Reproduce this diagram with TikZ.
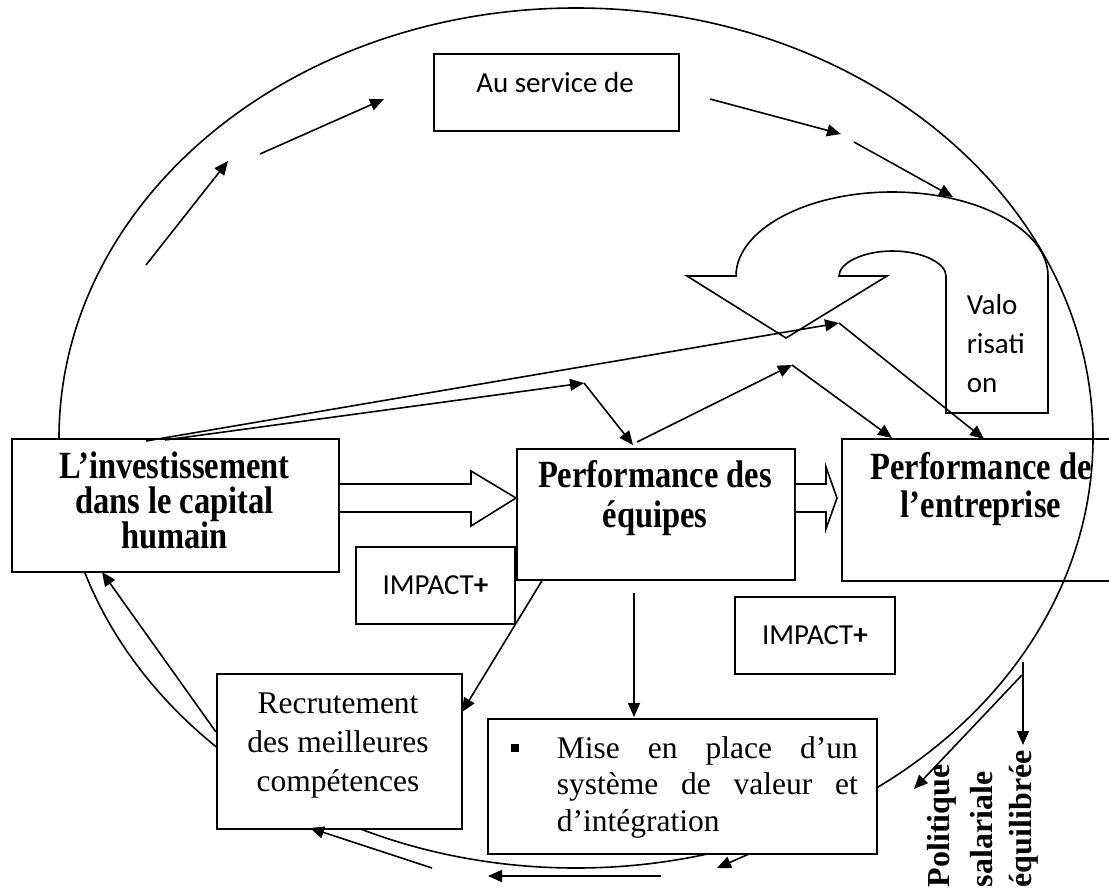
\documentclass[tikz,border=0pt]{standalone}
\usepackage{fontspec}
\setmainfont{Liberation Serif}
\newfontfamily\tallserif[FakeStretch=0.845]{Liberation Serif}
\newfontfamily\calibri{Carlito}
\usetikzlibrary{arrows.meta}
\begin{document}
\begin{tikzpicture}[x=1pt,y=-1pt,
  line width=1.6pt,
  box/.style={draw, line width=1.9pt, fill=white, rectangle, inner sep=0pt, anchor=north west},
  openbox/.style={draw, line width=1.9pt, rectangle, inner sep=0pt, anchor=north west},
  con/.style={-{Triangle[length=14pt,width=12pt]}, line width=1.6pt},
  plain/.style={line width=1.6pt},
  bigtext/.style={font=\fontsize{32}{37}\selectfont\bfseries, align=center, inner sep=0pt},
  talltext/.style={align=center, inner sep=0pt},
  calib/.style={font=\calibri\fontsize{29}{39}\selectfont, inner sep=0pt},
  serif/.style={font=\fontsize{31.5}{39}\selectfont, inner sep=0pt}
]
\useasboundingbox (0,0) rectangle (1109,892);
\clip (0,0) rectangle (1109,892);

% big ellipse
\draw[plain] (576,438) ellipse [x radius=517pt, y radius=430pt];

% boxes
\node[box, minimum width=245pt, minimum height=77pt] (service) at (433,53) {};
\node[calib] (serviceT) at (555,83) {Au service de};

\node[box, minimum width=327pt, minimum height=133pt] (invest) at (11,438) {};
\node[talltext, font=\tallserif\fontsize{38.5}{35}\selectfont\bfseries] (investT) at (174.5,500)
  {L’investissement\\dans le capital\\humain};

\node[box, minimum width=278pt, minimum height=131pt] (equipes) at (516,448) {};
\node[talltext, font=\tallserif\fontsize{38.5}{40}\selectfont\bfseries] (equipesT) at (655,498) {Performance des\\équipes};

\node[openbox, minimum width=280pt, minimum height=142pt] (entreprise) at (841,438) {};
\node[talltext, font=\tallserif\fontsize{38.5}{38}\selectfont\bfseries] (entrepriseT) at (981,489) {Performance de\\l’entreprise};

\node[box, minimum width=159pt, minimum height=77pt, calib] (impact1) at (355,546) {IMPACT\textbf{+}};
\node[box, minimum width=160pt, minimum height=77pt, calib] (impact2) at (734,596) {IMPACT\textbf{+}};

\node[box, minimum width=245pt, minimum height=155pt] (recrut) at (216,673) {};
\node[serif, align=center] (recrutT) at (338,746) {Recrutement\\des meilleures\\compétences};

\node[box, minimum width=389pt, minimum height=135pt] (mise) at (487,718) {};
\node[serif, font=\fontsize{31.5}{36.5}\selectfont, text width=301pt, align=justify, anchor=north west] (miseT) at (556,735.5)
  {\hyphenpenalty=10000\tolerance=10000\hbadness=10000\noindent Mise en place d’un\linebreak système de valeur et\linebreak d’intégration};
\node[fill=black, minimum size=8.5pt, inner sep=0pt] (bullet) at (515,748) {};

% U-turn arrow (Valorisation)
\draw[plain] (946,413) -- (1048,413) -- (1048,276)
  .. controls (1048,230) and (978,192) .. (892,192)
  .. controls (806,192) and (736,230) .. (736,276)
  -- (687,276) -- (786,338) -- (887,276) -- (839,276)
  .. controls (839,263) and (863,251) .. (892.5,251)
  .. controls (922,251) and (946,263) .. (946,276) -- cycle;
\node[calib, align=left, anchor=north west] (valo) at (966,294) {Valo\\risati\\on};

% block arrows
\draw[line width=1.6pt, fill=white] (invest.east |- 0,484) -- (471,484) -- (471,471) -- (equipes.west |- 0,498)
  -- (471,526) -- (471,512) -- (invest.east |- 0,512);
\draw[line width=1.6pt, fill=white] (equipes.east |- 0,484) -- (826,484) -- (826,467) -- (837,498)
  -- (826,529) -- (826,512) -- (equipes.east |- 0,512);

% coordinates for free ends
\coordinate (a1s) at (146,265); \coordinate (a1e) at (228,161);
\coordinate (a2s) at (260,154); \coordinate (a2e) at (384,99);
\coordinate (a3s) at (710,99);  \coordinate (a3e) at (841,134);
\coordinate (a4s) at (854,142); \coordinate (a4e) at (953,197);
\coordinate (ib1) at (146,441); \coordinate (ib2) at (165,440);
\coordinate (v1) at (584,383);
\coordinate (v2) at (792,365);
\coordinate (v3) at (839,323);
\coordinate (eqtop1) at (633,445); \coordinate (eqtop2) at (637,442);
\coordinate (en1) at (892,438); \coordinate (en2) at (984,439);
\coordinate (rc1) at (216,732); \coordinate (iv1) at (102,572);
\coordinate (eq3) at (543,579); \coordinate (rc2) at (462,712);
\coordinate (eq4) at (634,593); \coordinate (mi1) at (634,717);
\coordinate (b4s) at (432,868); \coordinate (rc3) at (310,828);
\coordinate (b5s) at (661,876); \coordinate (b5e) at (488,876);
\coordinate (b6s) at (749,854); \coordinate (b6e) at (717,868);
\coordinate (c7s) at (1022,675); \coordinate (c7e) at (914,789);
\coordinate (c8s) at (1023,662); \coordinate (c8e) at (1023,745);

% top arrows
\draw[con] (a1s) -- (a1e);
\draw[con] (a2s) -- (a2e);
\draw[con] (a3s) -- (a3e);
\draw[con] (a4s) -- (a4e);

% middle arrows
\draw[con] (ib1) -- (v3);
\draw[con] (ib2) -- (v1);
\draw[con] (v1) -- (eqtop1);
\draw[con] (eqtop2) -- (v2);
\draw[con] (v2) -- (en1);
\draw[con] (v3) -- (en2);

% lower arrows
\draw[con] (rc1) -- (iv1);
\draw[con] (eq3) -- (rc2);
\draw[con] (eq4) -- (mi1);
\draw[con] (b4s) -- (rc3);
\draw[con] (b5s) -- (b5e);
\draw[con] (b6s) -- (b6e);
\draw[con] (c7s) -- (c7e);
\draw[con] (c8s) -- (c8e);

% rotated labels
\node[bigtext, rotate=90, anchor=west] (pol) at (942,888) {Politique};
\node[bigtext, rotate=90, anchor=west] (sal) at (982,888) {salariale};
\node[bigtext, rotate=90, anchor=west] (equ) at (1024,888) {équilibrée};
\end{tikzpicture}
\end{document}
